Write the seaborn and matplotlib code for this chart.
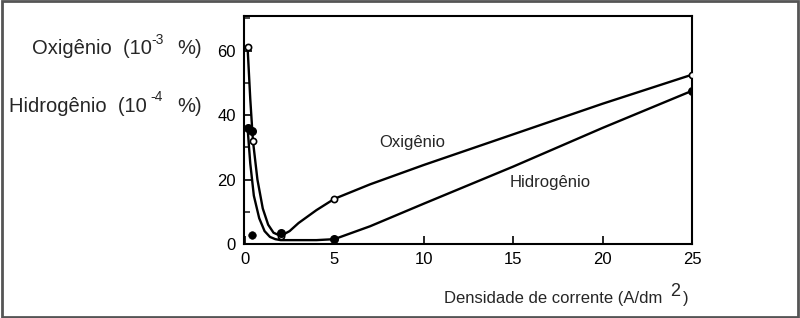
import matplotlib
matplotlib.use("Agg")
import matplotlib.pyplot as plt
import seaborn as sns
import pandas as pd
from matplotlib.patches import Rectangle
from matplotlib.ticker import MultipleLocator

# ---- data ----
# measured points
oxi_pts_x = [0.2, 0.45, 2.0, 5.0, 25.0]
oxi_pts_y = [61, 32, 2.5, 14, 52.5]
hid_pts_x = [0.15, 0.4, 2.0, 5.0, 25.0]
hid_pts_y = [36, 35, 3.5, 1.5, 47.5]
extra_pt_x = [0.4]
extra_pt_y = [2.8]

# drawn curves
oxi_curve_x = [0.15, 0.3, 0.45, 0.7, 1.0, 1.3, 1.6, 2.0, 2.5, 3.0, 4.0, 5.0, 7.0, 10, 15, 20, 25]
oxi_curve_y = [61, 45, 32, 20, 11, 6, 3.5, 2.5, 4, 6.5, 10.5, 14, 18.5, 24.5, 34, 43.5, 52.5]
hid_curve_x = [0.15, 0.3, 0.5, 0.8, 1.1, 1.4, 1.7, 2.0, 3, 4, 5, 7, 10, 15, 20, 25]
hid_curve_y = [36, 25, 15, 8, 4, 2.2, 1.5, 1.2, 1.2, 1.2, 1.5, 5.5, 12.5, 24, 36, 47.5]

x_ticks = [0, 5, 10, 15, 20, 25]
y_ticks = [0, 20, 40, 60]

sns.set_theme(style="white")
plt.rcParams['font.family'] = ['Liberation Sans', 'DejaVu Sans']

fig = plt.figure(figsize=(8, 3.18), dpi=100)
ax = fig.add_axes([244/800, 1-244/318, (692-244)/800, (244-16)/318])

oxi_curve = pd.DataFrame({"x": oxi_curve_x, "y": oxi_curve_y})
hid_curve = pd.DataFrame({"x": hid_curve_x, "y": hid_curve_y})
sns.lineplot(data=oxi_curve, x="x", y="y", ax=ax, color="black", lw=1.7, sort=False, estimator=None)
sns.lineplot(data=hid_curve, x="x", y="y", ax=ax, color="black", lw=1.7, sort=False, estimator=None)

sns.scatterplot(x=oxi_pts_x, y=oxi_pts_y, ax=ax, marker="o", s=20, facecolor="white",
                edgecolor="black", linewidth=1.2, zorder=5)
sns.scatterplot(x=hid_pts_x, y=hid_pts_y, ax=ax, marker="o", s=30, color="black",
                edgecolor="black", linewidth=1.0, zorder=6)
sns.scatterplot(x=extra_pt_x, y=extra_pt_y, ax=ax, marker="o", s=30, color="black",
                edgecolor="black", zorder=6)

ax.set_xlim(-0.05, 25)
ax.set_ylim(0, 70.7)
ax.set_xticks(x_ticks)
ax.set_yticks(y_ticks)
ax.yaxis.set_minor_locator(MultipleLocator(10))
ax.tick_params(axis="both", which="major", direction="in", length=6, width=1.2,
               labelsize=12, colors="black", pad=6)
ax.tick_params(axis="y", which="minor", direction="in", length=4, width=1.2, left=True)
ax.tick_params(axis="x", bottom=True)
ax.tick_params(axis="y", left=True)
for s in ax.spines.values():
    s.set_color("black")
    s.set_linewidth(1.5)
ax.set_xlabel("")
ax.set_ylabel("")

ax.text(7.5, 31.6, "Oxigênio", fontsize=12, ha="left", va="center")
ax.text(14.8, 19.2, "Hidrogênio", fontsize=12, ha="left", va="center")

# left labels
fig.text(32/800, 1-48/318, "Oxigênio  (10", fontsize=14.5, ha="left", va="center")
fig.text(151/800, 1-40/318, "-3", fontsize=10, ha="left", va="center")
fig.text(177/800, 1-48/318, "%)", fontsize=14.5, ha="left", va="center")
fig.text(9/800, 1-107/318, "Hidrogênio  (10", fontsize=14.5, ha="left", va="center")
fig.text(150/800, 1-97/318, "-4", fontsize=10, ha="left", va="center")
fig.text(177/800, 1-107/318, "%)", fontsize=14.5, ha="left", va="center")

# x label
fig.text(444/800, 1-298/318, "Densidade de corrente (A/dm", fontsize=12, ha="left", va="center")
fig.text(670/800, 1-292/318, "2", fontsize=13, ha="left", va="center")
fig.text(683/800, 1-298/318, ")", fontsize=12, ha="left", va="center")

fig.patches.append(Rectangle((0.002, 0.004), 0.995, 0.992, transform=fig.transFigure,
                             fill=False, edgecolor="#555555", linewidth=2.0))

fig.savefig("out.png", dpi=100, facecolor="white")
